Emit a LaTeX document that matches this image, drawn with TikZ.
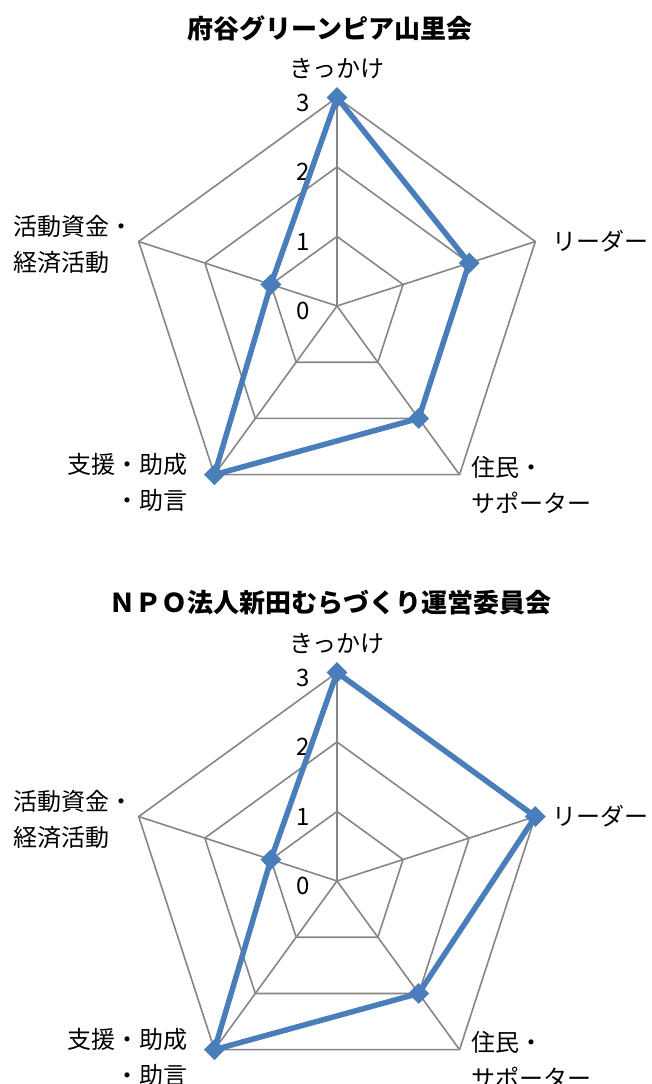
\documentclass[tikz,border=0pt]{standalone}
\usepackage{fontspec}
\setmainfont{Noto Sans CJK JP}
\usepackage{tikz}
\usetikzlibrary{shapes.geometric}
\definecolor{seriesblue}{RGB}{74,126,187}
\definecolor{gridgray}{RGB}{134,134,134}
\tikzset{
  gridline/.style={draw=gridgray,line width=1.6pt},
  seriesline/.style={draw=seriesblue,line width=5.5pt,line join=round},
  datamark/.style={diamond,fill=seriesblue,inner sep=0pt,minimum width=21pt,minimum height=21pt},
  axislabel/.style={inner sep=0pt,font=\fontsize{24}{36}\selectfont},
  ticklabel/.style={inner sep=0pt,anchor=east,font=\fontsize{24}{28}\selectfont},
  charttitle/.style={inner sep=0pt,font=\fontsize{26}{30}\selectfont\bfseries}
}

\begin{document}
\begin{tikzpicture}[x=1pt,y=1pt]
\useasboundingbox (0,0) rectangle (651,1084);
\fill[white] (0,0) rectangle (651,1084);
% grid, titles, axis names and ticks of both charts
\foreach \c/\cy/\ttl in {a/778/府谷グリーンピア山里会,b/203/ＮＰＯ法人新田むらづくり運営委員会}{
\begin{scope}[shift={(337,\cy)}]
\foreach \r in {69.5,139,208.5}
  \draw[gridline] (90:\r) -- (18:\r) -- (-54:\r) -- (-126:\r) -- (162:\r) -- cycle;
\foreach \i in {0,...,4}{
  \coordinate (\c-ax\i) at (90-72*\i:208.5);
  \draw[gridline] (0,0) -- (\c-ax\i);
}
\foreach \t in {0,...,3}
  \node[ticklabel] (\c-tick\t) at (-27,\t*69.5-5) {\t};
\node[charttitle] (\c-title) at (-7,278) {\ttl};
\node[axislabel] (\c-lab0) at (0,237) {きっかけ};
\node[axislabel,anchor=west] (\c-lab1) at (215,65) {リーダー};
\node[axislabel,anchor=west,align=left] (\c-lab2) at (134,-179) {住民・\\サポーター};
\node[axislabel,anchor=east,align=right] (\c-lab3) at (-149,-176) {支援・助成\\・助言};
\node[axislabel,anchor=west,align=left] (\c-lab4) at (-324,62) {活動資金・\\経済活動};
\end{scope}
}
% data points
\begin{scope}[shift={(337,778)}]
\foreach \v [count=\i from 0] in {3,2,2,3,1}
  \coordinate (a-p\i) at (90-72*\i:\v*69.5);
\end{scope}
\begin{scope}[shift={(337,203)}]
\foreach \v [count=\i from 0] in {3,3,2,3,1}
  \coordinate (b-p\i) at (90-72*\i:\v*69.5);
\end{scope}
\foreach \c in {a,b}{
  \draw[seriesline] (\c-p0) -- (\c-p1) -- (\c-p2) -- (\c-p3) -- (\c-p4) -- cycle;
  \foreach \i in {0,...,4}
    \node[datamark] (\c-m\i) at (\c-p\i) {};
}
\end{tikzpicture}
\end{document}
